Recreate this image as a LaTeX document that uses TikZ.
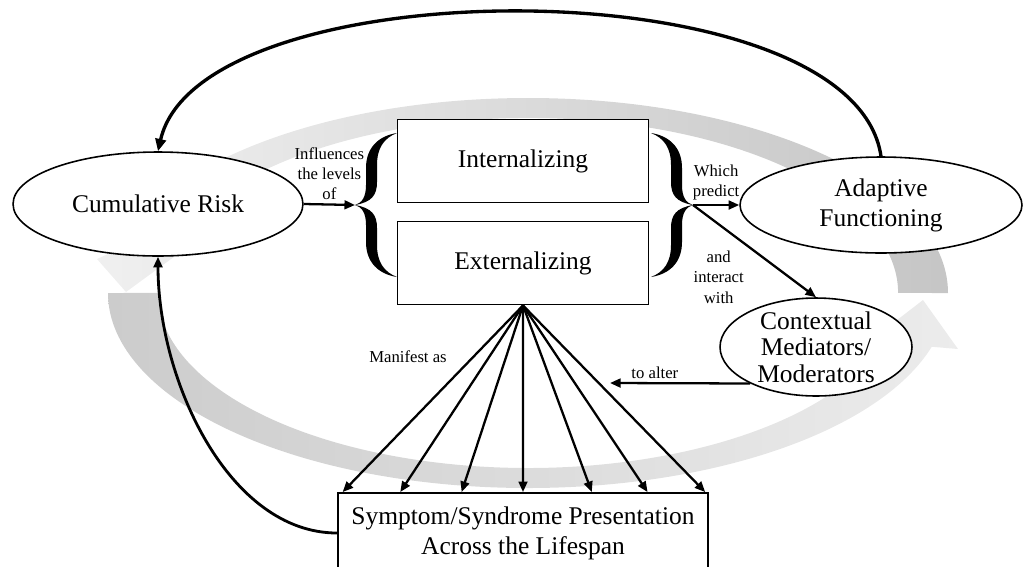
\documentclass[tikz,border=0pt]{standalone}
\usepackage{fontspec}
\setmainfont{Liberation Serif}
\usepackage{tikz}
\usetikzlibrary{arrows.meta,positioning,shapes.geometric,calc}
\usepackage{xcolor}

\tikzset{
    pics/curly/.style={code={
        \fill (42,-72) .. controls (23,-69) and (11,-57) .. (11,-37)
          -- (11,-20) .. controls (11,-8) and (7,-2) .. (0,0)
          .. controls (7,2) and (11,8) .. (11,20)
          -- (11,37) .. controls (11,57) and (23,69) .. (42,72)
          .. controls (29,67) and (22,57) .. (22,40)
          -- (22,23) .. controls (22,10) and (17,3) .. (0,0)
          .. controls (17,-3) and (22,-10) .. (22,-23)
          -- (22,-40) .. controls (22,-57) and (29,-67) .. (42,-72) -- cycle;
    }}
}

\begin{document}
\begin{tikzpicture}[
    x=0.02cm, y=-0.02cm,
    box/.style={rectangle, draw, line width=1.1pt, minimum width=5.02cm, minimum height=1.66cm, align=center, font=\fontsize{14.5}{17}\selectfont},
    oval/.style={ellipse, draw, line width=0.9pt, inner sep=0pt, align=center, font=\fontsize{14.5}{17}\selectfont},
    lbl/.style={align=center, inner sep=2pt, font=\fontsize{9.5}{11.5}\selectfont},
    arrow/.style={-{Triangle[length=6pt,width=5pt]}, line width=1.3pt},
    bigarrow/.style={-{Triangle[length=7pt,width=6pt]}, line width=1.9pt},
    band/.style={draw=none}
]
\useasboundingbox (0,0) rectangle (1024,566);

% grey cycle behind the diagram
\shade[band, left color=gray!12, right color=gray!45]
  (948,293) arc[start angle=0, end angle=-167, x radius=420, y radius=195]
  -- (97,259) -- (126,292) -- (182,251)
  -- (167.6,253.6) arc[start angle=-167, end angle=0, x radius=370, y radius=175] -- cycle;
\shade[band, left color=gray!40, right color=gray!15]
  (108,293) arc[start angle=180, end angle=16, x radius=420, y radius=195]
  -- (958,349) -- (923,300) -- (866,344)
  -- (883.7,341.2) arc[start angle=16, end angle=180, x radius=370, y radius=175] -- cycle;

\node[box, fill=white] (int) at (523,161) {Internalizing};
\node[box, fill=white] (ext) at (523,263) {Externalizing};
\node[box, fill=white, minimum width=7.4cm, minimum height=1.6cm] (sym) at (523,533) {Symptom/Syndrome Presentation\\Across the Lifespan};

\node[oval, fill=white, minimum width=5.8cm, minimum height=2.08cm] (cum) at (158,204) {Cumulative Risk};
\node[oval, fill=white, minimum width=5.64cm, minimum height=1.92cm] (adapt) at (881,205) {Adaptive\\Functioning};
\node[oval, fill=white, minimum width=3.84cm, minimum height=1.96cm, inner ysep=-2pt, font=\fontsize{14.5}{15}\selectfont] (ctx) at (816,347) {Contextual\\Mediators/\\Moderators};

% braces
\coordinate (ltip) at (355,205);
\coordinate (rtip) at (693,205);
\pic at (ltip) {curly};
\pic[xscale=-1] at (rtip) {curly};

\coordinate (alter) at (610,383);
\node[lbl] (manif) at (408,357) {Manifest as};

\draw[arrow] (cum.east) -- (ltip) node[midway, above, lbl] {Influences\\the levels\\of};
\draw[arrow] (rtip) -- (adapt.west) node[midway, above, lbl] {Which\\predict};
\draw[arrow] (rtip) -- (ctx.north) node[pos=0.45, below left, lbl] {and\\interact\\with};
\draw[arrow] (ctx.209) -- (alter) node[pos=0.68, above, lbl] {to alter};

\foreach \f in {0.015,0.17,0.335,0.5,0.685,0.835,0.99}
  \draw[arrow] (ext.south) -- ($(sym.north west)!\f!(sym.north east)$);

\draw[bigarrow] (adapt.north) .. controls +(-28,-192) and +(42,-185) .. (cum.north);
\draw[arrow, line width=1.6pt] (sym.west) .. controls +(-108,0) and +(0,124) .. (cum.south);
\end{tikzpicture}
\end{document}
